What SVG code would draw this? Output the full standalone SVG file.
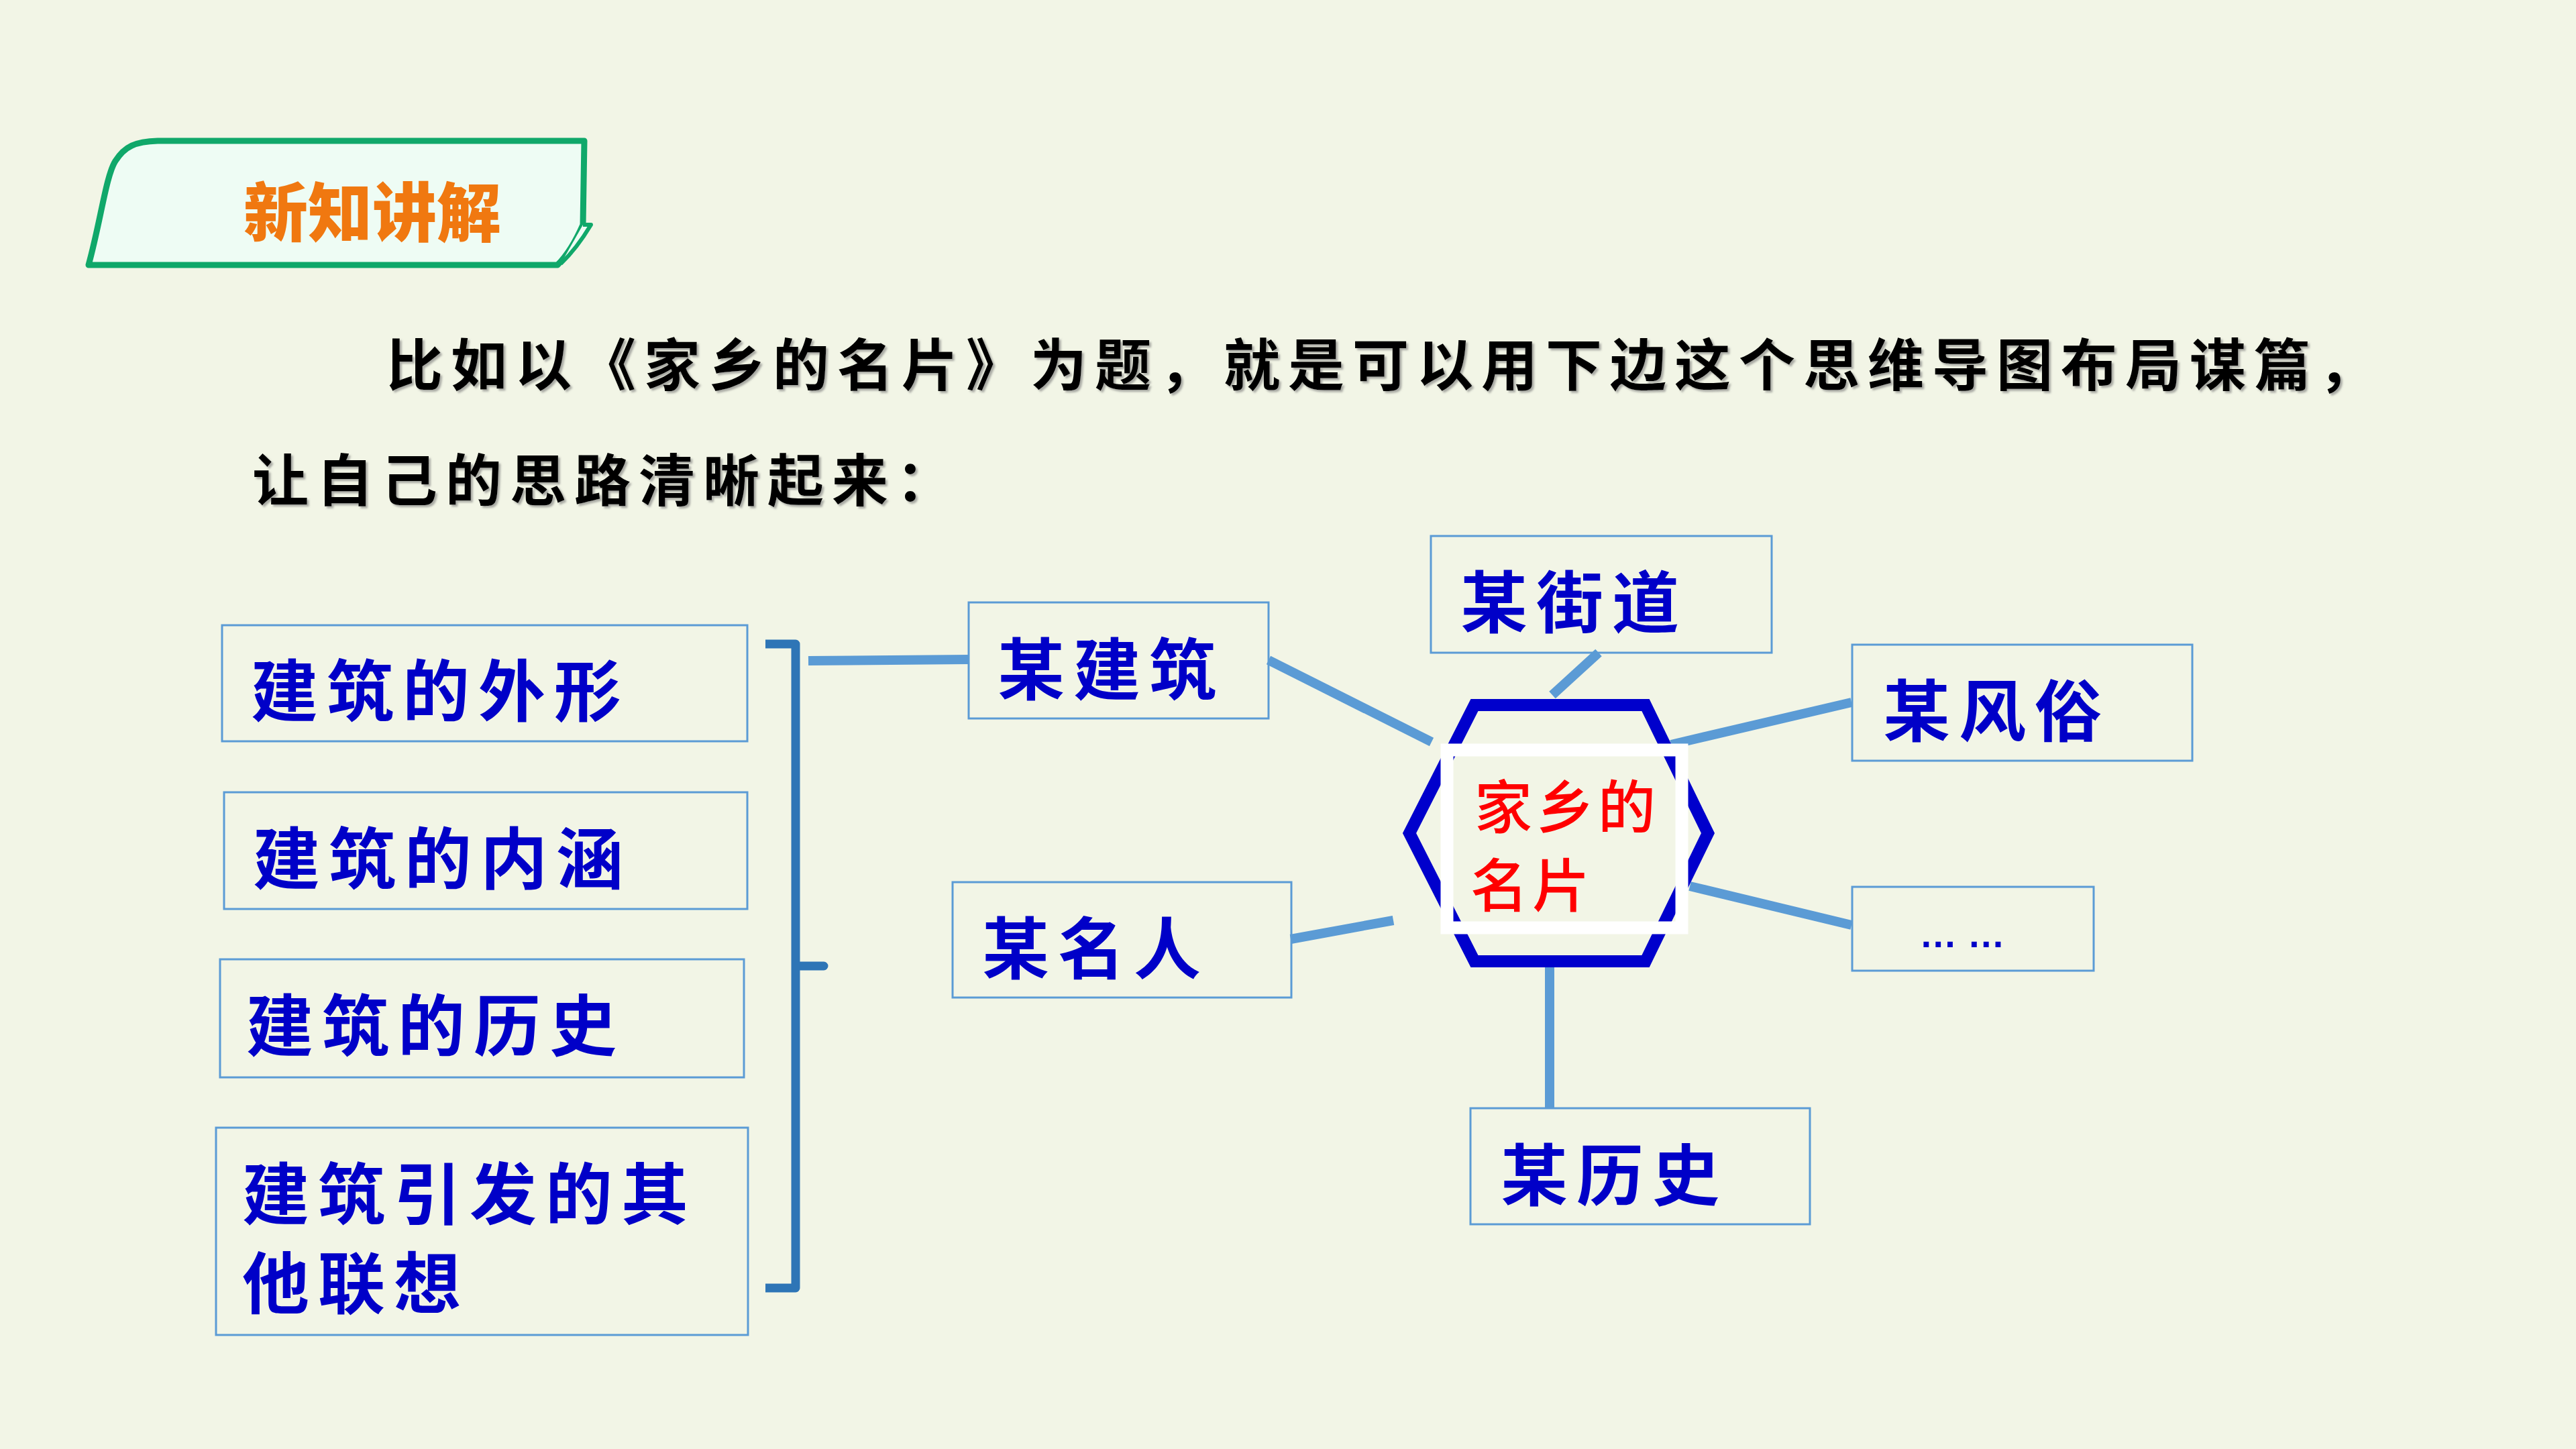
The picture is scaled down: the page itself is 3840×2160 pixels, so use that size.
<svg xmlns="http://www.w3.org/2000/svg" width="3840" height="2160" viewBox="0 0 3840 2160">
<defs>
<style>
.bg{fill:#F2F5E6}
.box{fill:none;stroke:#5B9BD5;stroke-width:3}
.t{font-family:"Noto Sans CJK SC","Noto Sans CJK TC",sans-serif;font-weight:700;fill:#0000C8;font-size:100px;letter-spacing:13px;dominant-baseline:central}
.red{font-family:"Noto Sans CJK SC",sans-serif;font-weight:500;fill:#FF0000;font-size:86px;letter-spacing:6px;dominant-baseline:central}
.para{font-family:"Noto Sans CJK SC",sans-serif;font-weight:700;fill:#000;font-size:84px;letter-spacing:12px;dominant-baseline:central}
.conn{stroke:#5B9BD5;stroke-width:14;fill:none}
</style>
<filter id="sh" x="-5%" y="-20%" width="110%" height="140%">
<feDropShadow dx="3" dy="3" stdDeviation="1.5" flood-color="#777" flood-opacity="0.6"/>
</filter>
</defs>
<rect class="bg" x="0" y="0" width="3840" height="2160"/>

<g id="banner">
<path d="M 132 395 C 150 330 158 262 172 240 C 186 218 202 211 235 210 L 871 210 L 869 335 C 858 360 846 380 831 395 Z" fill="#EEFCF4" stroke="#10A86A" stroke-width="9" stroke-linejoin="round"/>
<path d="M 869 335 L 881 335 C 866 360 852 378 836 393" fill="#EEFCF4" stroke="#10A86A" stroke-width="6" stroke-linejoin="round"/>
<text x="363" y="310" font-family="'Noto Sans CJK SC',sans-serif" font-weight="900" font-size="96" fill="#F07810" dominant-baseline="central">新知讲解</text>
</g>

<g id="paragraph" filter="url(#sh)">
<text class="para" x="576" y="538">比如以《家乡的名片》为题，就是可以用下边这个思维导图布局谋篇，</text>
<text class="para" x="376" y="710">让自己的思路清晰起来：</text>
</g>

<g id="connectors">
<polyline points="1141,960 1186,960 1186,1440 1228,1440 1186,1440 1186,1920 1141,1920" fill="none" stroke="#2E75B6" stroke-width="13" stroke-linejoin="round"/>
<line class="conn" x1="1205" y1="985" x2="1445" y2="983"/>
<line class="conn" x1="1891" y1="984" x2="2134" y2="1106"/>
<line class="conn" x1="2383" y1="973" x2="2314" y2="1036"/>
<line class="conn" x1="2760" y1="1047" x2="2491" y2="1110"/>
<line class="conn" x1="2760" y1="1379" x2="2519" y2="1321"/>
<line class="conn" x1="2310" y1="1440" x2="2310" y2="1651"/>
<line class="conn" x1="1924" y1="1400" x2="2077" y2="1372"/>
</g>

<g id="node-waixing">
<rect class="box" x="331" y="932" width="783" height="173"/>
<text class="t" x="374" y="1023">建筑的外形</text>
</g>
<g id="node-neihan">
<rect class="box" x="334" y="1181" width="780" height="174"/>
<text class="t" x="377" y="1273">建筑的内涵</text>
</g>
<g id="node-lishi">
<rect class="box" x="328" y="1430" width="781" height="176"/>
<text class="t" x="367" y="1522">建筑的历史</text>
</g>
<g id="node-lianxiang">
<rect class="box" x="322" y="1681" width="793" height="309"/>
<text class="t" x="361" y="1773">建筑引发的其</text>
<text class="t" x="361" y="1906">他联想</text>
</g>

<g id="node-jianzhu">
<rect class="box" x="1444" y="898" width="447" height="173"/>
<text class="t" x="1487" y="991">某建筑</text>
</g>
<g id="node-jiedao">
<rect class="box" x="2133" y="799" width="508" height="174"/>
<text class="t" x="2177" y="891">某街道</text>
</g>
<g id="node-fengsu">
<rect class="box" x="2761" y="961" width="507" height="173"/>
<text class="t" x="2807" y="1053">某风俗</text>
</g>
<g id="node-more">
<rect class="box" x="2761" y="1322" width="360" height="125"/>
<text x="2925" y="1412" text-anchor="middle" font-family="'Liberation Sans',sans-serif" font-weight="700" font-size="56" fill="#0000C8">… …</text>
</g>
<g id="node-lishi2">
<rect class="box" x="2192" y="1652" width="506" height="173"/>
<text class="t" x="2237" y="1745">某历史</text>
</g>
<g id="node-mingren">
<rect class="box" x="1420" y="1315" width="505" height="172"/>
<text class="t" x="1464" y="1407">某名人</text>
</g>

<g id="node-center">
<polygon points="2198,1051 2453,1051 2546,1242 2453,1433 2198,1433 2101,1242" fill="none" stroke="#0000CC" stroke-width="18"/>
<rect x="2157" y="1118" width="350" height="265" fill="none" stroke="#FFFFFF" stroke-width="19"/>
<text class="red" x="2198" y="1197">家乡的</text>
<text class="red" x="2192" y="1314">名片</text>
</g>
</svg>
